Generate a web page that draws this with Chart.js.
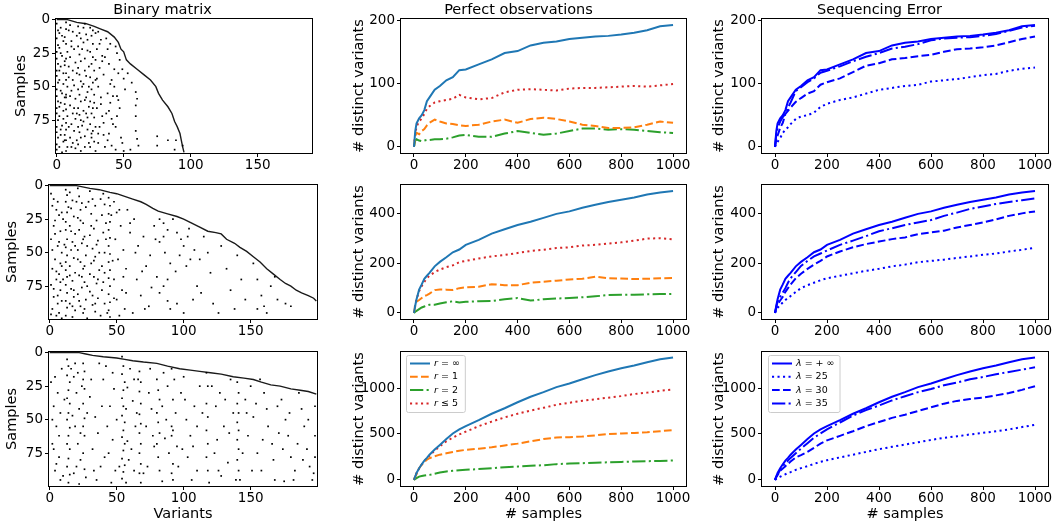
<!DOCTYPE html>
<html>
<head>
<meta charset="utf-8">
<script src="https://cdn.jsdelivr.net/npm/chart.js@4.4.1/dist/chart.umd.min.js"></script>
<style>
  html, body { margin: 0; padding: 0; background: #fff; }
  body { width: 1058px; height: 529px; position: relative; overflow: hidden; }
  .panel { position: absolute; }
</style>
</head>
<body>
<script>
// ---- data ----
const samples = [0,5,10,20,30,40,50,60,80,100,125,150,175,200,250,300,350,400,450,500,550,600,650,700,750,800,850,900,950,1000];

// perfect observations, row 1
const p1Inf = [0,25,37,45,50,58,72,78,90,96,105,110,121,122,130,138,148,151,160,164,166,170,172,174,175,177,180,184,190,192];
const p1R1  = [0,18,22,20,25,28,34,38,43,40,37,36,34,33,35,40,43,38,44,46,44,40,35,33,30,30,31,35,40,38];
const p1R2  = [0,10,12,10,9,10,11,11,12,12,13,15,18,19,16,16,21,25,22,19,21,25,29,29,27,28,27,25,23,22];
const p1R5  = [0,20,32,40,45,52,60,64,70,72,74,76,82,78,75,77,86,90,91,90,89,92,93,93,94,95,96,95,97,99];
// row 2
const p2Inf = [0,30,55,94,115,138,150,162,188,206,225,245,256,275,295,320,338,355,368,384,400,410,425,437,448,457,466,478,486,492];
const p2R1  = [0,30,45,52,60,68,72,78,92,95,94,93,100,103,106,116,112,112,122,126,130,135,138,146,140,139,137,138,140,141];
const p2R2  = [0,5,8,15,22,26,30,33,33,38,43,47,42,45,47,48,55,60,50,55,58,60,63,67,72,73,73,75,76,77];
const p2R5  = [0,35,55,88,108,125,140,150,165,175,185,192,205,210,220,228,234,242,250,255,262,265,272,275,280,285,292,300,302,297];
// row 3
const p3Inf = [0,40,75,127,170,210,240,275,330,380,445,505,550,585,650,720,780,845,905,955,1010,1050,1095,1140,1180,1215,1245,1280,1312,1332];
const p3R1  = [0,35,65,127,165,195,220,236,258,275,290,305,318,327,340,355,375,395,420,445,462,465,472,485,500,505,512,518,530,543];
const p3R2  = [0,10,20,36,42,48,52,55,68,80,92,100,106,110,118,128,138,145,153,160,172,178,182,188,192,196,200,204,207,211];
const p3R5  = [0,40,75,125,168,205,235,265,320,365,420,460,495,525,585,635,680,720,755,785,818,840,862,878,895,912,935,950,970,985];

// sequencing error (lambda = +inf is the perfect curve of the same row)
const s1L25 = [0,5,8,14,22,27,31,36,44,48,50,54,63,68,74,78,84,90,93,96,98,103,105,107,110,113,115,120,123,125];
const s1L30 = [0,12,18,30,38,52,57,62,71,77,84,88,98,102,108,118,128,132,138,140,143,145,150,154,155,157,160,165,170,174];
const s1L35 = [0,20,30,40,47,52,62,70,88,94,102,108,117,120,127,135,142,148,155,158,162,168,171,172,173,175,178,183,188,191];
const s2L25 = [0,10,20,32,42,52,60,68,85,100,112,122,132,140,150,160,170,178,188,195,205,210,215,222,228,235,240,248,255,263];
const s2L30 = [0,20,35,50,65,85,100,115,140,158,178,195,210,228,248,265,278,288,298,305,318,325,332,345,355,365,378,392,402,410];
const s2L35 = [0,25,45,65,82,100,122,140,165,190,210,228,240,252,275,292,310,330,342,355,365,375,392,405,420,430,440,448,455,462];
const s3L25 = [0,10,20,35,50,62,75,85,110,128,150,175,198,215,245,275,305,335,360,385,410,435,458,475,495,512,530,550,575,600];
const s3L30 = [0,30,55,100,125,150,175,200,245,270,305,350,395,430,480,530,585,630,675,710,750,790,830,860,880,895,920,945,980,1020];
const s3L35 = [0,35,60,110,150,180,210,240,290,340,400,460,505,550,625,700,760,810,865,910,955,990,1030,1060,1095,1120,1150,1175,1200,1225];

const sampleTicks = [0,200,400,600,800,1000];
const variantTicks = [0,50,100,150];
const sampleRowTicks = [0,25,50,75];
const countTicks1 = [0,100,200];
const countTicks2 = [0,200,400];
const countTicks3 = [0,500,1000];

const perfLabels = ['r = ∞', 'r = 1', 'r = 2', 'r ≤ 5'];
const seqLabels = ['λ = + ∞', 'λ = 25', 'λ = 30', 'λ = 35'];

// binary matrices: first-occurrence boundary [variant, sample] and scattered ones [variant, sample]
const stair1 = [[0,0],[8,0],[15,2],[22,3],[28,5],[33,7],[38,9],[43,13],[46,17],[48,22],[50,24],[52,30],[55,33],[60,37],[65,41],[70,45],[74,50],[76,55],[79,60],[83,65],[86,70],[88,76],[90,80],[92,85],[93,90],[94,95],[95,99]];
const dots1 = [[0,3],[1,8],[0,14],[1,19],[0,24],[0,29],[1,33],[0,38],[0,42],[1,47],[0,52],[0,57],[1,61],[0,66],[0,70],[1,75],[0,80],[0,84],[1,88],[0,93],[0,97],
  [3,6],[4,12],[2,21],[4,27],[3,35],[5,40],[2,45],[4,55],[3,62],[5,68],[2,72],[4,79],[3,86],[5,91],[2,95],[4,99],
  [7,2],[7,7],[6,13],[7,18],[8,24],[7,29],[6,34],[7,40],[7,45],[8,50],[7,56],[7,58],[6,63],[7,67],[8,72],[7,77],[7,82],[6,86],[7,90],[8,95],[7,98],
  [10,4],[12,9],[11,16],[13,22],[10,28],[14,32],[12,38],[9,43],[13,49],[11,53],[14,59],[10,64],[12,70],[14,74],[11,78],[13,83],[10,88],[12,92],[14,96],
  [16,5],[17,10],[18,14],[16,20],[17,26],[18,31],[16,36],[17,41],[18,46],[16,52],[17,56],[18,61],[16,66],[17,71],[18,75],[16,80],[17,84],[18,88],[16,93],[18,98],
  [21,3],[22,11],[20,17],[23,23],[21,29],[24,35],[22,42],[20,48],[23,54],[21,60],[24,65],[22,70],[20,76],[23,82],[21,87],[24,92],
  [25,6],[26,12],[27,18],[25,24],[27,28],[26,33],[28,38],[25,43],[27,47],[26,52],[28,56],[25,61],[27,66],[26,70],[28,73],[25,78],[27,83],[26,88],[28,91],[25,95],[29,98],
  [31,9],[33,15],[30,22],[34,27],[32,36],[35,41],[31,50],[33,58],[30,66],[34,72],[32,80],[35,86],[31,92],
  [37,14],[40,18],[36,28],[39,33],[41,45],[38,55],[40,62],[37,70],[42,78],[39,85],[41,94],
  [44,20],[43,37],[46,40],[43,50],[45,57],[49,37],[50,44],[51,52],[47,66],[44,80],[48,88],[44,97],
  [59,54],[60,59],[59,64],[59,72],[59,83],[60,89],[61,94],[75,87],[75,94],[83,90],[89,90],[88,97],[94,94],
  [2,10],[5,16],[3,25],[6,31],[2,38],[5,48],[3,53],[6,58],[2,65],[5,74],[3,82],[6,90],[9,8],[11,20],[9,35],[12,45],[10,57],[13,66],[9,80],[11,95],
  [15,12],[19,22],[15,40],[19,50],[15,70],[19,79],[15,90],[20,6],[23,15],[21,38],[24,50],[22,58],[20,68],[23,73],[21,95],[27,8],[29,10],[29,30],[29,45],[28,62],[29,80],[26,85],
  [32,18],[34,31],[30,44],[33,63],[35,77],[31,85],[36,95],[38,22],[40,48],[42,57],[39,68],[41,74],[38,90],[45,25],[47,30],[46,60],[45,72],[49,92],[50,98],[53,40],[55,97],[56,47]];

const stair2 = [[0,0],[20,0],[30,2],[37,3],[45,5],[50,6],[56,8],[62,10],[68,12],[72,14],[77,17],[81,19],[88,21],[95,23],[100,25],[106,28],[112,31],[118,34],[124,35],[128,36],[132,40],[138,43],[142,46],[147,49],[152,53],[157,57],[162,62],[167,66],[172,70],[176,73],[180,75],[184,78],[188,80],[193,82],[197,84],[199,86]];
const dots2 = [[2,15],[5,18],[7,22],[3,30],[8,34],[1,40],[6,45],[9,50],[4,55],[2,62],[7,66],[5,70],[1,74],[8,78],[3,83],[6,88],[2,92],[7,95],[5,97],[9,99],[4,26],[8,58],
  [12,3],[13,7],[12,12],[13,20],[12,27],[12,33],[13,40],[12,46],[13,52],[12,57],[12,63],[13,68],[12,74],[13,80],[12,86],[13,91],[12,97],
  [15,5],[17,11],[16,17],[18,23],[15,30],[19,36],[17,42],[16,48],[18,54],[15,60],[19,65],[17,71],[16,77],[18,83],[15,88],[19,93],[17,98],
  [21,2],[22,8],[24,13],[23,18],[21,24],[25,28],[22,33],[26,38],[24,43],[21,48],[27,52],[23,57],[25,62],[22,67],[26,72],[24,76],[21,81],[27,85],[23,90],[25,95],[28,99],[27,16],[28,45],
  [30,4],[32,10],[34,15],[31,21],[35,26],[33,32],[30,37],[36,41],[32,47],[34,53],[31,58],[37,63],[33,68],[35,73],[30,79],[36,84],[32,89],[34,94],[38,97],
  [40,6],[41,14],[39,22],[42,28],[40,35],[41,50],[39,60],[40,72],[41,88],[44,9],[45,15],[44,21],[45,27],[44,33],[45,39],[44,45],[45,51],[44,57],[45,63],[44,69],[45,75],[44,81],[45,87],[44,93],[45,98],
  [48,12],[50,20],[53,30],[49,40],[55,48],[51,55],[57,62],[48,70],[54,78],[50,85],[56,92],[52,97],[58,18],[60,35],
  [63,25],[66,45],[70,38],[72,60],[65,70],[68,82],[75,52],[78,30],[74,90],[62,95],[80,68],
  [82,25],[85,28],[88,33],[85,38],[82,42],[86,50],[90,58],[94,64],[88,70],[85,75],[82,80],[88,86],[90,92],[95,35],[98,40],[100,45],[103,38],[97,52],[102,60],[105,55],[108,48],[95,88],[100,95],[107,85],[110,75],[104,32],[92,25],
  [115,38],[118,50],[120,65],[113,80],[122,88],[128,45],[132,62],[135,78],[126,95],[140,52],[143,70],[146,85],[138,92],[112,55],
  [152,58],[155,70],[158,82],[160,90],[162,95],[165,75],[170,85],[176,88],[180,90],[155,92],[168,68],
  [1,6],[3,10],[6,12],[9,20],[4,36],[7,42],[2,48],[9,60],[5,64],[8,72],[3,77],[6,82],[9,86],[1,96],[10,25],[11,44],[10,70],[14,16],[16,34],[19,45],[15,67],[18,78],[17,90],
  [20,12],[23,26],[25,40],[21,55],[26,60],[24,68],[28,75],[22,86],[26,92],[29,12],[31,30],[35,44],[33,56],[30,66],[36,70],[32,82],[34,88],[38,10],[37,50],[39,78],[42,40],[41,65],[43,95],
  [46,22],[47,56],[48,84],[52,18],[55,68],[57,80],[60,28],[64,50],[69,64],[71,92],[76,76],[79,40]];

const stair3 = [[0,0],[22,0],[27,1],[32,2],[40,3],[50,4],[56,5],[62,6],[70,7],[80,8],[88,10],[97,12],[105,13],[112,14],[120,15],[128,16],[137,18],[145,19],[152,20],[158,22],[165,24],[172,25],[180,27],[187,28],[193,29],[199,31]];
const dots3 = [[1,22],[3,40],[5,55],[2,68],[7,78],[4,88],[8,95],[6,30],[9,12],[2,50],[7,62],[5,83],
  [13,5],[14,10],[13,17],[15,22],[14,28],[13,34],[15,38],[14,45],[13,50],[15,56],[14,62],[13,68],[15,72],[14,79],[13,85],[15,91],[14,97],[16,12],
  [18,18],[20,30],[22,42],[19,55],[21,68],[23,80],[18,90],[24,25],[17,47],[22,98],
  [25,8],[26,14],[25,20],[26,27],[25,38],[26,49],[25,55],[26,62],[25,75],[26,87],[27,93],
  [30,33],[34,48],[36,60],[32,72],[38,85],[35,95],[40,20],[42,10],[45,40],[48,27],[43,55],[47,65],[41,78],[49,88],[37,8],[46,97],
  [54,3],[55,10],[54,16],[56,22],[55,28],[54,34],[55,40],[57,42],[54,47],[56,52],[55,58],[54,63],[56,68],[55,73],[54,79],[56,84],[55,89],[54,94],[57,97],[58,26],[58,66],
  [60,12],[62,36],[64,55],[61,72],[63,88],[66,20],[65,45],
  [67,14],[68,22],[67,29],[68,38],[67,46],[68,53],[67,60],[68,68],[67,75],[68,83],[67,90],[68,97],
  [72,55],[74,30],[76,42],[78,70],[73,85],[80,20],[81,28],[82,35],[80,45],[81,52],[82,60],[80,68],[81,78],[82,88],[85,15],[87,50],[89,75],[84,96],[86,64],
  [91,12],[92,35],[91,55],[92,58],[91,62],[92,83],[91,90],[92,95],[94,45],[95,70],
  [98,30],[100,18],[102,50],[105,62],[103,78],[108,40],[110,88],[112,25],[106,95],[99,72],
  [117,15],[118,25],[117,38],[118,48],[117,58],[118,68],[117,78],[118,88],[119,97],
  [124,40],[127,30],[130,55],[125,65],[133,82],[135,20],[128,92],[137,45],
  [140,22],[141,30],[140,38],[141,45],[140,52],[141,58],[140,65],[141,72],[140,80],[141,88],[142,95],
  [146,35],[150,25],[152,48],[148,62],[155,75],[158,88],[160,30],[163,55],[166,68],[168,95],[157,20],[170,40],
  [173,35],[176,50],[178,62],[180,78],[183,88],[186,30],[188,42],[190,55],[192,72],[194,85],[196,95],[198,40],[198,62],[198,78],[175,96],[185,68],
  [4,18],[8,45],[3,72],[10,92],[11,35],[19,8],[21,15],[23,60],[20,85],[28,45],[31,20],[33,88],[39,40],[44,75],[47,15],[50,50],[52,85],[59,80],[63,20],[70,90],
  [75,12],[77,62],[84,40],[88,25],[93,20],[96,85],[101,35],[107,70],[110,55],[114,45],[121,25],[123,75],[126,88],[131,35],[134,60],[139,95],[144,75],[147,45],
  [151,88],[154,38],[159,65],[162,42],[167,80],[171,60],[174,72],[179,45],[182,95],[189,80],[193,50],[197,90]];

// ---- helpers ----
Chart.defaults.font.family = "'DejaVu Sans', sans-serif";
Chart.defaults.font.size = 13;
Chart.defaults.color = '#000';

const FONT = "'DejaVu Sans', sans-serif";
const LABEL_SIZE = 14.5;
const TICK_SIZE = 13.5;

// box round the plot, like matplotlib spines
const frame = {
  id: 'frame',
  afterDatasetsDraw(chart) {
    const a = chart.chartArea, ctx = chart.ctx;
    ctx.save();
    ctx.strokeStyle = '#000';
    ctx.lineWidth = 1;
    ctx.setLineDash([]);
    const l = Math.round(a.left) - 0.5, t = Math.round(a.top) - 0.5;
    ctx.strokeRect(l, t, Math.round(a.right) - Math.round(a.left) + 1, Math.round(a.bottom) - Math.round(a.top) + 1);
    ctx.restore();
  }
};

// small legend inside the plot, upper left
const boxLegend = {
  id: 'boxLegend',
  afterDraw(chart, args, opts) {
    if (!opts || !opts.show) return;
    const ctx = chart.ctx, a = chart.chartArea;
    const sets = chart.data.datasets;
    const x0 = a.left + opts.dx, y0 = a.top + opts.dy;
    ctx.save();
    const it = 'italic 9.5px ' + FONT, nf = '9.5px ' + FONT;
    let tw = 0;
    sets.forEach(d => {
      ctx.font = it; let w = ctx.measureText(d.label[0]).width;
      ctx.font = nf; w += ctx.measureText(d.label.slice(1)).width;
      tw = Math.max(tw, w);
    });
    const w = 27 + tw + 6, h = 57;
    ctx.beginPath();
    ctx.roundRect(x0 + 0.5, y0 + 0.5, w, h, 2);
    ctx.fillStyle = 'rgba(255,255,255,0.8)';
    ctx.fill();
    ctx.strokeStyle = '#cccccc';
    ctx.lineWidth = 1;
    ctx.stroke();
    sets.forEach((d, i) => {
      const y = y0 + 8.5 + i * 13.3;
      ctx.beginPath();
      ctx.setLineDash(d.borderDash || []);
      ctx.lineCap = 'butt';
      ctx.strokeStyle = d.borderColor;
      ctx.lineWidth = d.borderWidth;
      ctx.moveTo(x0 + 4, y);
      ctx.lineTo(x0 + 24, y);
      ctx.stroke();
      ctx.setLineDash([]);
      ctx.fillStyle = '#000';
      ctx.textBaseline = 'middle';
      ctx.font = it;
      ctx.fillText(d.label[0], x0 + 28, y);
      const w0 = ctx.measureText(d.label[0]).width;
      ctx.font = nf;
      ctx.fillText(d.label.slice(1), x0 + 28 + w0, y);
    });
    ctx.restore();
  }
};

function panel(left, top, width, height) {
  const div = document.createElement('div');
  div.className = 'panel';
  div.style.left = left + 'px';
  div.style.top = top + 'px';
  div.style.width = width + 'px';
  div.style.height = height + 'px';
  const cv = document.createElement('canvas');
  div.appendChild(cv);
  document.body.appendChild(div);
  return cv;
}

function scales(o) {
  const x = {
    type: 'linear', min: o.xmin, max: o.xmax,
    afterBuildTicks: s => { s.ticks = o.xticks.map(v => ({ value: v })); },
    afterFit: s => { s.height = o.xh; },
    ticks: { padding: 0, maxRotation: 0, autoSkip: false, callback: v => String(v), font: { size: TICK_SIZE } },
    grid: { drawOnChartArea: false, drawTicks: true, tickLength: 4, tickColor: '#000', tickWidth: 1 },
    border: { display: false },
    title: { display: !!o.xtitle, text: o.xtitle || '', padding: 0, font: { size: LABEL_SIZE } }
  };
  const y = {
    type: 'linear', min: o.ymin, max: o.ymax, reverse: !!o.reverse,
    afterBuildTicks: s => { s.ticks = o.yticks.map(v => ({ value: v })); },
    afterFit: s => { s.width = o.yw; },
    ticks: { padding: 2, autoSkip: false, callback: v => String(v), font: { size: TICK_SIZE } },
    grid: { drawOnChartArea: false, drawTicks: true, tickLength: 4, tickColor: '#000', tickWidth: 1 },
    border: { display: false },
    title: { display: !!o.ytitle, text: o.ytitle || '', padding: 0, font: { size: LABEL_SIZE } }
  };
  return { x, y };
}

function baseOptions(o) {
  return {
    responsive: true,
    maintainAspectRatio: false,
    animation: false,
    devicePixelRatio: 1,
    events: [],
    layout: { padding: { top: o.title ? 0 : o.th, right: o.rp, left: 0, bottom: 0 } },
    scales: scales(o),
    plugins: {
      legend: { display: false },
      tooltip: { enabled: false },
      title: {
        display: !!o.title, text: o.title || '',
        color: '#000', font: { size: LABEL_SIZE, weight: 'normal' },
        padding: { top: 1.3, bottom: 0.3 }
      },
      boxLegend: o.legend || { show: false }
    }
  };
}

function pts(arr) { return arr.map(p => ({ x: p[0], y: p[1] })); }
function series(ys) { return samples.map((x, i) => ({ x: x, y: ys[i] })); }

function matrix(cv, dots, stair, o) {
  new Chart(cv, {
    type: 'scatter',
    data: {
      datasets: [
        { data: pts(dots), pointStyle: 'rect', pointRadius: 1.2, pointBorderWidth: 0, backgroundColor: '#000', showLine: false },
        { data: pts(stair), showLine: true, pointRadius: 0, borderColor: '#1a1a1a', borderWidth: 1.4 }
      ]
    },
    options: baseOptions(Object.assign({ xticks: variantTicks, yticks: sampleRowTicks, ymin: -0.5, ymax: 99.5, reverse: true, ytitle: 'Samples' }, o)),
    plugins: [frame]
  });
}

const DASH = [7.7, 3.3], DOT = [2.1, 3.4], DASHDOT = [13.3, 3.3, 2.1, 3.3];

function perfChart(cv, ys, o) {
  const styles = [
    { c: '#1f77b4', d: [] }, { c: '#ff7f0e', d: DASH }, { c: '#2ca02c', d: DASHDOT }, { c: '#d62728', d: DOT }
  ];
  new Chart(cv, {
    type: 'line',
    data: {
      datasets: ys.map((y, i) => ({
        label: perfLabels[i], data: series(y), borderColor: styles[i].c, borderDash: styles[i].d,
        borderWidth: 2, pointRadius: 0, tension: 0, borderCapStyle: 'butt', fill: false
      }))
    },
    options: baseOptions(Object.assign({ xmin: -50, xmax: 1050, xticks: sampleTicks, ytitle: '# distinct variants' }, o)),
    plugins: [frame, boxLegend]
  });
}

function seqChart(cv, ys, o) {
  const dashes = [[], DOT, DASH, DASHDOT];
  new Chart(cv, {
    type: 'line',
    data: {
      datasets: ys.map((y, i) => ({
        label: seqLabels[i], data: series(y), borderColor: '#0000ff', borderDash: dashes[i],
        borderWidth: 2, pointRadius: 0, tension: 0, borderCapStyle: 'butt', fill: false
      }))
    },
    options: baseOptions(Object.assign({ xmin: -50, xmax: 1050, xticks: sampleTicks, ytitle: '# distinct variants' }, o)),
    plugins: [frame, boxLegend]
  });
}

// ---- column 1: binary matrices ----
matrix(panel(13, 0, 319, 175), dots1, stair1, { yw: 43, xh: 22, rp: 20, title: 'Binary matrix', xmin: -0.5, xmax: 190.5 });
matrix(panel(4, 173, 333, 168), dots2, stair2, { yw: 45, xh: 22, rp: 20, th: 12, xmin: -0.5, xmax: 199.5 });
matrix(panel(4, 340, 333, 183), dots3, stair3, { yw: 45, xh: 37, rp: 20, th: 12, xmin: -0.5, xmax: 199.5, xtitle: 'Variants' });

// ---- column 2: perfect observations ----
perfChart(panel(351, 0, 355, 175), [p1Inf, p1R1, p1R2, p1R5],
  { yw: 50, xh: 22, rp: 20, title: 'Perfect observations', ymin: -9.6, ymax: 201.6, yticks: countTicks1 });
perfChart(panel(351, 173, 355, 168), [p2Inf, p2R1, p2R2, p2R5],
  { yw: 50, xh: 22, rp: 20, th: 12, ymin: -24.6, ymax: 516.6, yticks: countTicks2 });
perfChart(panel(351, 340, 355, 183), [p3Inf, p3R1, p3R2, p3R5],
  { yw: 50, xh: 37, rp: 20, th: 12, ymin: -66, ymax: 1392, yticks: countTicks3, xtitle: '# samples',
    legend: { show: true, dx: 5, dy: 3 } });

// ---- column 3: sequencing error ----
seqChart(panel(711, 0, 347, 175), [p1Inf, s1L25, s1L30, s1L35],
  { yw: 51, xh: 22, rp: 10, title: 'Sequencing Error', ymin: -9.6, ymax: 201.6, yticks: countTicks1 });
seqChart(panel(711, 173, 347, 168), [p2Inf, s2L25, s2L30, s2L35],
  { yw: 51, xh: 22, rp: 10, th: 12, ymin: -24.6, ymax: 516.6, yticks: countTicks2 });
seqChart(panel(711, 340, 347, 183), [p3Inf, s3L25, s3L30, s3L35],
  { yw: 51, xh: 37, rp: 10, th: 12, ymin: -66, ymax: 1392, yticks: countTicks3, xtitle: '# samples',
    legend: { show: true, dx: 6, dy: 3 } });
</script>
</body>
</html>
